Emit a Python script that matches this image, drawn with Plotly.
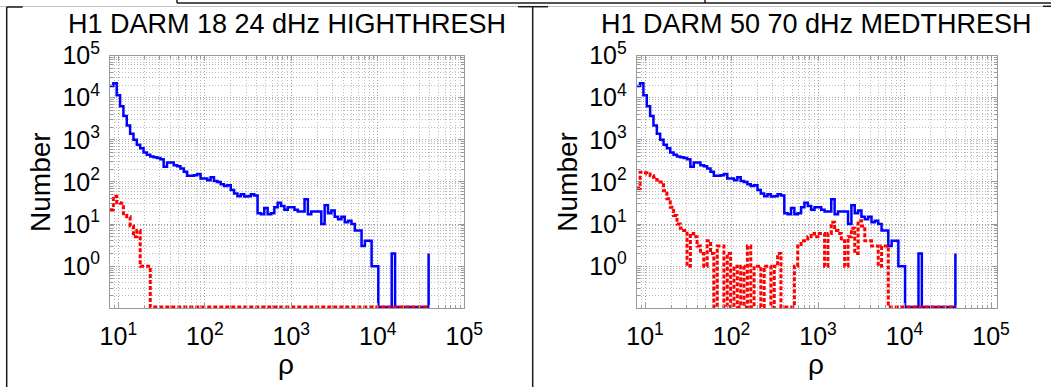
import math
import plotly.graph_objects as go

# ---------------- data ----------------
# left edges of the logarithmic rho bins (stairs x positions)
RHO = [8.000, 8.747, 9.564, 10.458, 11.435, 12.503, 13.671, 14.948, 16.344, 17.871,
       19.540, 21.365, 23.361, 25.543, 27.929, 30.538, 33.390, 36.509, 39.920, 43.648,
       47.725, 52.183, 57.057, 62.387, 68.214, 74.586, 81.553, 89.170, 97.499, 106.61,
       116.56, 127.45, 139.36, 152.37, 166.61, 182.17, 199.18, 217.79, 238.13, 260.37,
       284.69, 311.29, 340.36, 372.15, 406.92, 444.93, 486.49, 531.93, 581.61, 635.94,
       695.34, 760.29, 831.31, 908.96, 993.86, 1086.7, 1188.2, 1299.2, 1420.6, 1553.3,
       1698.3, 1857.0, 2030.4, 2220.1, 2427.4, 2654.2, 2902.1, 3173.2, 3469.6, 3793.7,
       4148.0, 4535.5, 4959.1, 5422.3, 5928.8, 6482.6, 7088.1, 7750.2, 8474.1, 9265.6,
       10131, 11077, 12112, 13243, 14480, 15833, 17312, 18929, 20697, 22630,
       24744, 27055, 29582, 32345, 35367, 38670]

# blue (solid) histogram, identical in both panels
BLUE = [19000, 22000, 11500, 6300, 3700, 2200, 1400, 1000, 760, 630,
        500, 440, 400, 385, 370, 345, 230, 290, 290, 250,
        235, 210, 175, 140, 140, 145, 155, 120, 120, 110,
        130, 105, 100, 88, 80, 84, 64, 53, 46, 51,
        45, 46, 51, 48, 18, 17, 24, 17, 18, 25,
        32, 27, 22, 25, 25, 22, 20, 20, 39, 17,
        20, 20, 20, 10, 28, 18, 21, 15, 13, 15,
        11, 12, 10, 7, 7, 3, 4, 4, 1, 1,
        0, 0, 0, 0, 2, 0, 0, 0, 0, 0,
        0, 0, 0, 0, 0, 2]

# red (dashed) histogram, left panel
RED_LEFT = [22, 46, 32, 31, 16, 15, 9, 5, 7, 1,
            1, 1, 0, 0, 0, 0, 0, 0, 0, 0,
            0, 0, 0, 0, 0, 0, 0, 0, 0, 0,
            0, 0, 0, 0, 0, 0, 0, 0, 0, 0,
            0, 0, 0, 0, 0, 0, 0, 0, 0, 0,
            0, 0, 0, 0, 0, 0, 0, 0, 0, 0,
            0, 0, 0, 0, 0, 0, 0, 0, 0, 0,
            0, 0, 0, 0, 0, 0, 0, 0, 0, 0,
            0, 0, 0, 0, 0, 0, 0, 0, 0, 0,
            0, 0, 0, 0, 0, 0]

# red (dashed) histogram, right panel
RED_RIGHT = [70, 170, 165, 155, 140, 130, 112, 100, 62, 40,
             25, 16, 10, 8, 7, 1, 6, 5, 3, 2,
             1, 4, 2, 0, 3, 3, 0, 2, 0, 1,
             0, 1, 0, 3, 0, 1, 1, 0, 1, 1,
             0, 1, 2, 0, 0, 0, 0, 1, 3, 4,
             4, 5, 6, 5, 6, 6, 1, 6, 11, 7,
             6, 4, 1, 5, 8, 2, 12, 9, 4, 4,
             3, 3, 1, 3, 3, 0, 0, 0, 0, 0,
             0, 0, 0, 0, 0, 0, 0, 0, 0, 0,
             0, 0, 0, 0, 0, 0]

TITLES = ["H1 DARM 18 24 dHz HIGHTHRESH", "H1 DARM 50 70 dHz MEDTHRESH"]
Y_LABEL = "Number"
X_LABEL = "ρ"
X_TICKS = [10, 100, 1000, 10000, 100000]
X_TICKTEXT = ["10<sup>1</sup>", "10<sup>2</sup>", "10<sup>3</sup>", "10<sup>4</sup>", "10<sup>5</sup>"]
Y_TICKS = [1, 10, 100, 1000, 10000, 100000]
Y_TICKTEXT = ["10<sup>0</sup>", "10<sup>1</sup>", "10<sup>2</sup>", "10<sup>3</sup>", "10<sup>4</sup>", "10<sup>5</sup>"]

# ---------------- layout helpers ----------------
W, H = 1051, 387
FONT = "Liberation Sans, Arial, Helvetica, sans-serif"
FLOOR = 0.107  # empty bins are drawn on the bottom of the axes


def pxx(x):
    return x / W


def pxy(y):
    return 1 - y / H


def floored(vals):
    return [v if v > 0 else FLOOR for v in vals]


MINOR_X = [m * 10 ** e for e in range(0, 5) for m in range(2, 10)]
MINOR_Y = [m * 10 ** e for e in range(-1, 5) for m in range(2, 10)]

PANELS = [
    dict(x0=110.0, x1=464.3, xr=[math.log10(8), 5.0], red=RED_LEFT),
    dict(x0=636.7, x1=997.0, xr=[math.log10(8), math.log10(8) + (997.0 - 636.7) / 86.5], red=RED_RIGHT),
]
Y_TOP, Y_BOT = 55.6, 308.3

fig = go.Figure()
annotations = []
for i, p in enumerate(PANELS):
    xa = "x" if i == 0 else "x2"
    ya = "y" if i == 0 else "y2"
    fig.add_trace(go.Scatter(x=RHO, y=floored(BLUE), mode="lines", line_shape="hv",
                             line=dict(color="#0000ff", width=2.5), xaxis=xa, yaxis=ya,
                             hoverinfo="skip"))
    fig.add_trace(go.Scatter(x=RHO, y=floored(p["red"]), mode="lines", line_shape="hv",
                             line=dict(color="#ff0000", width=3, dash="4px,2px"), xaxis=xa, yaxis=ya,
                             hoverinfo="skip"))
    axkw = dict(showline=True, mirror="ticks", linecolor="#9a9a9a", linewidth=1,
                ticks="inside", ticklen=5, tickcolor="#9a9a9a",
                showgrid=True, gridcolor="#a4a4a4", griddash="1px,2px", gridwidth=1,
                zeroline=False, automargin=False,
                tickfont=dict(family=FONT, size=25, color="black"))
    xk = dict(axkw, type="log", range=p["xr"], domain=[pxx(p["x0"]), pxx(p["x1"])],
              anchor=ya, tickvals=X_TICKS, ticktext=X_TICKTEXT, ticklabelstandoff=6,
              minor=dict(tickvals=MINOR_X, ticks="inside", ticklen=3, tickcolor="#9a9a9a",
                         showgrid=True, gridcolor="#bcbcbc", griddash="1px,2px", gridwidth=1))
    yk = dict(axkw, type="log", range=[-1, 5], domain=[pxy(Y_BOT), pxy(Y_TOP)],
              anchor=xa, tickvals=Y_TICKS, ticktext=Y_TICKTEXT, ticklabelstandoff=4,
              minor=dict(tickvals=MINOR_Y, ticks="inside", ticklen=3, tickcolor="#9a9a9a",
                         showgrid=True, gridcolor="#bcbcbc", griddash="1px,2px", gridwidth=1))
    if i == 0:
        fig.update_layout(xaxis=xk, yaxis=yk)
    else:
        fig.update_layout(xaxis2=xk, yaxis2=yk)

    cx = (p["x0"] + p["x1"]) / 2
    annotations.append(dict(text=TITLES[i], x=pxx(cx), y=pxy(24), xref="paper", yref="paper",
                            xanchor="center", yanchor="middle", showarrow=False,
                            font=dict(family=FONT, size=27, color="black")))
    annotations.append(dict(text=Y_LABEL, x=pxx(p["x0"] - 69), y=pxy((Y_TOP + Y_BOT) / 2),
                            xref="paper", yref="paper", xanchor="center", yanchor="middle",
                            textangle=-90, showarrow=False,
                            font=dict(family=FONT, size=28, color="black")))
    annotations.append(dict(text=X_LABEL, x=pxx(cx - 1), y=pxy(364), xref="paper", yref="paper",
                            xanchor="center", yanchor="middle", showarrow=False,
                            font=dict(family=FONT, size=28, color="black")))

# page frame decorations (thin borders around the panels)
BLACK = "#1a1a1a"
lines = [
    (0, 6.5, 1043, 6.5, "#c4c4c4", 1),
    (177, 3, 1051, 3, BLACK, 1.5),
    (177, 0, 177, 3, BLACK, 1.5),
    (705, 0, 705, 3, BLACK, 1.5),
    (6.7, 7, 22.7, 7, BLACK, 1.5),
    (6.7, 7, 6.7, 387, BLACK, 1.5),
    (518, 6.7, 548, 6.7, BLACK, 1.5),
    (532.7, 6.7, 532.7, 387, BLACK, 1.5),
    (1043, 6.3, 1051, 6.3, BLACK, 1.5),
]
shapes = [dict(type="line", xref="paper", yref="paper", x0=pxx(a), y0=pxy(b), x1=pxx(c), y1=pxy(d),
               line=dict(color=col, width=w)) for a, b, c, d, col, w in lines]

fig.update_layout(width=W, height=H, margin=dict(l=0, r=0, t=0, b=0, pad=0),
                  paper_bgcolor="white", plot_bgcolor="white", showlegend=False,
                  annotations=annotations, shapes=shapes)

fig.write_html("out.html")
